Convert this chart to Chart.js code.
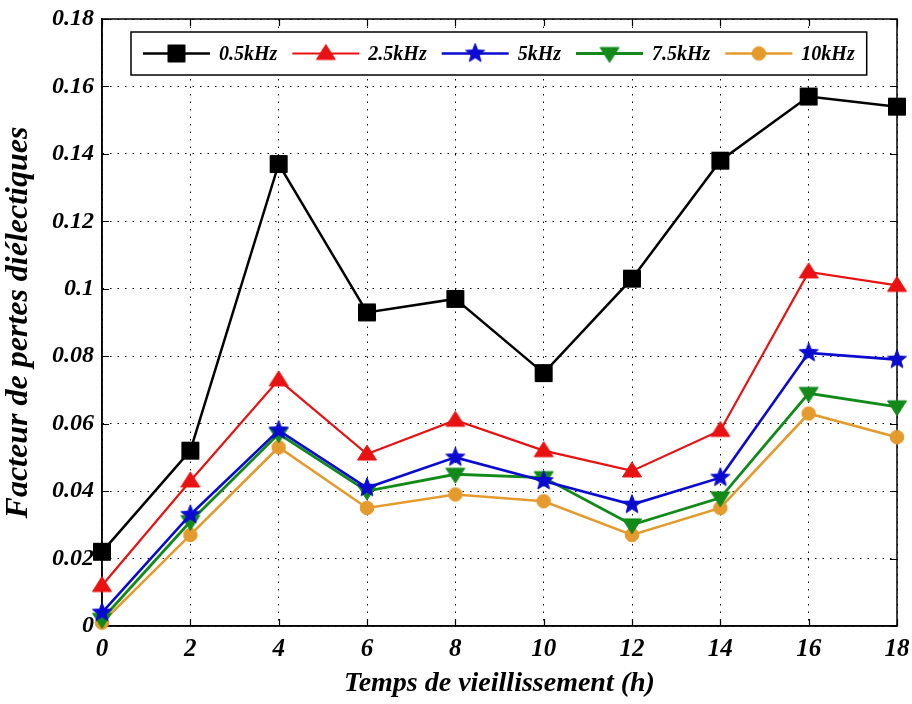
<!DOCTYPE html>
<html>
<head>
<meta charset="utf-8">
<script src="https://cdn.jsdelivr.net/npm/chart.js@4.4.1/dist/chart.umd.min.js"></script>
<style>
  html, body { margin: 0; padding: 0; background: #fff; }
  #wrap { width: 912px; height: 704px; }
</style>
</head>
<body>
<div id="wrap"><canvas id="c" width="912" height="704"></canvas></div>
<script>
// Aging time (h) and dielectric loss factor per measuring frequency
const agingHours = [0, 2, 4, 6, 8, 10, 12, 14, 16, 18];
const freqLabels = ['0.5kHz', '2.5kHz', '5kHz', '7.5kHz', '10kHz'];
const loss05k = [0.022, 0.052, 0.137, 0.093, 0.097, 0.075, 0.103, 0.138, 0.157, 0.154];
const loss25k = [0.012, 0.043, 0.073, 0.051, 0.061, 0.052, 0.046, 0.058, 0.105, 0.101];
const loss5k  = [0.004, 0.033, 0.058, 0.041, 0.050, 0.043, 0.036, 0.044, 0.081, 0.079];
const loss75k = [0.002, 0.031, 0.057, 0.040, 0.045, 0.044, 0.030, 0.038, 0.069, 0.065];
const loss10k = [0.001, 0.027, 0.053, 0.035, 0.039, 0.037, 0.027, 0.035, 0.063, 0.056];
const xTicks = [0, 2, 4, 6, 8, 10, 12, 14, 16, 18];
const yTicks = [0, 0.02, 0.04, 0.06, 0.08, 0.1, 0.12, 0.14, 0.16, 0.18];

const FONT = "'Liberation Serif', 'Times New Roman', serif";

// Marker glyphs rendered once into small canvases
function markerCanvas(shape, color) {
  const s = 24, c = s / 2;
  const cv = document.createElement('canvas');
  cv.width = s; cv.height = s;
  const g = cv.getContext('2d');
  g.fillStyle = color;
  g.strokeStyle = color;
  g.lineWidth = 1;
  g.beginPath();
  if (shape === 'square') {
    g.rect(c - 8.5, c - 8.5, 17, 17);
  } else if (shape === 'up') {
    g.moveTo(c, c - 9); g.lineTo(c + 9.5, c + 6); g.lineTo(c - 9.5, c + 6); g.closePath();
  } else if (shape === 'down') {
    g.moveTo(c, c + 9); g.lineTo(c + 9.5, c - 6); g.lineTo(c - 9.5, c - 6); g.closePath();
  } else if (shape === 'star') {
    const R = 10, r = 4.3;
    for (let i = 0; i < 10; i++) {
      const a = -Math.PI / 2 + i * Math.PI / 5;
      const rr = i % 2 === 0 ? R : r;
      const px = c + rr * Math.cos(a), py = c + rr * Math.sin(a);
      if (i === 0) g.moveTo(px, py); else g.lineTo(px, py);
    }
    g.closePath();
  } else {
    g.arc(c, c, 6.8, 0, Math.PI * 2);
  }
  g.fill();
  g.stroke();
  return cv;
}

const seriesStyle = [
  { color: '#000000', marker: 'square', width: 2.5 },
  { color: '#e81212', marker: 'up', width: 2.2 },
  { color: '#0a0ad0', marker: 'star', width: 2.6 },
  { color: '#128a1a', marker: 'down', width: 2.8 },
  { color: '#e59a2e', marker: 'circle', width: 2.6 }
];
const seriesValues = [loss05k, loss25k, loss5k, loss75k, loss10k];

const datasets = seriesValues.map((vals, i) => {
  const st = seriesStyle[i];
  const img = markerCanvas(st.marker, st.color);
  return {
    label: freqLabels[i],
    data: agingHours.map((h, k) => ({ x: h, y: vals[k] })),
    borderColor: st.color,
    backgroundColor: st.color,
    borderWidth: st.width,
    pointStyle: img,
    markerImage: img,
    tension: 0,
    clip: false
  };
});

// Closed box, inward tick marks and the framed legend
const framePlugin = {
  id: 'frame',
  beforeDatasetsDraw(chart) {
    const { ctx, chartArea: a, scales } = chart;
    ctx.save();
    ctx.strokeStyle = '#000';
    ctx.lineWidth = 1.5;
    ctx.strokeRect(a.left, a.top, a.right - a.left, a.bottom - a.top);
    ctx.lineWidth = 1.2;
    ctx.beginPath();
    xTicks.forEach(v => {
      const px = Math.round(scales.x.getPixelForValue(v)) + 0.5;
      ctx.moveTo(px, a.bottom); ctx.lineTo(px, a.bottom - 7);
      ctx.moveTo(px, a.top); ctx.lineTo(px, a.top + 7);
    });
    yTicks.forEach(v => {
      const py = Math.round(scales.y.getPixelForValue(v)) + 0.5;
      ctx.moveTo(a.left, py); ctx.lineTo(a.left + 7, py);
      ctx.moveTo(a.right, py); ctx.lineTo(a.right - 7, py);
    });
    ctx.stroke();
    ctx.restore();
  },
  afterDraw(chart) {
    const { ctx } = chart;
    const lineLen = 67, gapText = 9, gapItem = 15, padX = 12;
    ctx.save();
    ctx.font = `italic bold 20px ${FONT}`;
    const items = chart.data.datasets.map(ds => ({ ds, w: ctx.measureText(ds.label).width }));
    let total = padX * 2;
    items.forEach((it, i) => { total += lineLen + gapText + it.w + (i < items.length - 1 ? gapItem : 0); });
    const boxL = 131, boxT = 32, boxH = 43;
    ctx.fillStyle = '#fff';
    ctx.fillRect(boxL, boxT, total, boxH);
    ctx.strokeStyle = '#000';
    ctx.lineWidth = 1.5;
    ctx.strokeRect(boxL, boxT, total, boxH);
    const cy = boxT + boxH / 2;
    let x = boxL + padX;
    items.forEach(it => {
      const ds = it.ds;
      ctx.strokeStyle = ds.borderColor;
      ctx.lineWidth = ds.borderWidth;
      ctx.beginPath();
      ctx.moveTo(x, cy); ctx.lineTo(x + lineLen, cy);
      ctx.stroke();
      const img = ds.markerImage;
      ctx.drawImage(img, x + lineLen / 2 - img.width / 2, cy - img.height / 2);
      x += lineLen + gapText;
      ctx.fillStyle = '#000';
      ctx.textBaseline = 'middle';
      ctx.textAlign = 'left';
      ctx.fillText(ds.label, x, cy + 1);
      x += it.w + gapItem;
    });
    ctx.restore();
  }
};

new Chart(document.getElementById('c'), {
  type: 'line',
  data: { datasets },
  plugins: [framePlugin],
  options: {
    responsive: false,
    animation: false,
    events: [],
    layout: { padding: { top: 19, right: 15, left: 0, bottom: 0 } },
    plugins: { legend: { display: false }, tooltip: { enabled: false } },
    scales: {
      x: {
        type: 'linear',
        min: 0, max: 18,
        afterBuildTicks: s => { s.ticks = xTicks.map(v => ({ value: v })); },
        afterFit: s => { s.height = 78; s.paddingRight = 0; s.paddingLeft = 0; },
        grid: { color: '#000', lineWidth: 1, drawTicks: false },
        border: { display: true, color: '#000', width: 1.5, dash: [1.5, 6] },
        ticks: {
          color: '#000', padding: 9,
          font: { family: FONT, size: 25, style: 'italic', weight: 'bold' },
          callback: v => String(v)
        },
        title: {
          display: true, text: 'Temps de vieillissement (h)', color: '#000',
          padding: { top: 0, bottom: 3 },
          font: { family: FONT, size: 28, style: 'italic', weight: 'bold' }
        }
      },
      y: {
        type: 'linear',
        min: 0, max: 0.18,
        afterBuildTicks: s => { s.ticks = yTicks.map(v => ({ value: v })); },
        afterFit: s => { s.width = 102; s.paddingTop = 0; s.paddingBottom = 0; },
        grid: { color: '#000', lineWidth: 1, drawTicks: false },
        border: { display: true, color: '#000', width: 1.5, dash: [1.5, 6] },
        ticks: {
          color: '#000', padding: 8,
          font: { family: FONT, size: 24, style: 'italic', weight: 'bold' },
          callback: v => String(parseFloat(v.toFixed(2)))
        },
        title: {
          display: true, text: 'Facteur de pertes diélectiques', color: '#000',
          padding: { top: 0, bottom: 4 },
          font: { family: FONT, size: 32, style: 'italic', weight: 'bold' }
        }
      }
    }
  }
});
</script>
</body>
</html>
